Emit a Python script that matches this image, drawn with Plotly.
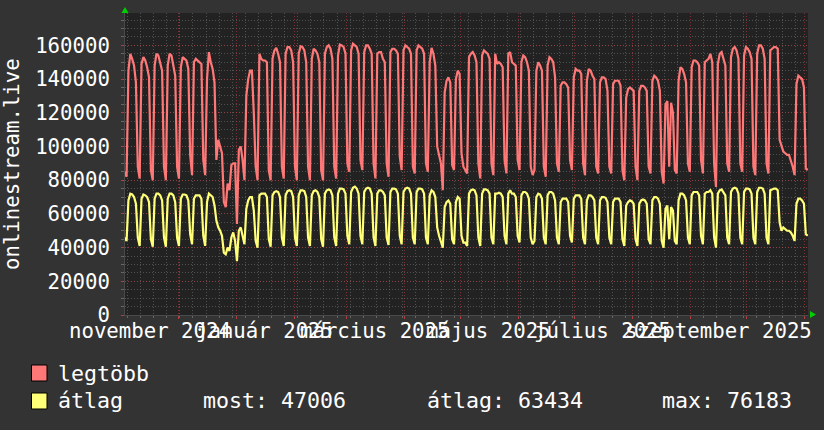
import pandas as pd
import plotly.graph_objects as go

# ---------------- data (values in thousands, one value per day) ----------------
first_day = "2024-11-02 12:00"
unit = 1000

# "legtöbb" (max) – weeks start on Monday; first row is Sat/Sun only
legtobb_k = [
    85, 82,
    145, 155, 152, 148, 138, 88, 81,
    149, 153, 151, 147, 141, 86, 80,
    148, 155, 154, 150, 145, 88, 80,
    148, 155, 154, 149, 142, 88, 81,
    147, 153, 152, 151, 146, 95, 83,
    150, 152, 151, 150, 149, 92, 83,
    140, 156, 150, 146, 138, 92, 104,
    100, 96, 67, 64, 78, 74, 89,
    90, 90, 54, 98, 100, 92, 80,
    130, 140, 145, 145, 120, 88, 80,
    155, 152, 151, 151, 150, 86, 80,
    152, 157, 158.5, 155, 150, 88, 81,
    155, 159, 159, 157, 150, 88, 80,
    155, 159.5, 159, 157, 150, 88, 80,
    152, 158, 157, 155, 150, 86, 80,
    155, 159, 160, 158, 152, 88, 81,
    154, 160.5, 160, 159, 155, 90, 85,
    157, 161, 160, 159, 155, 92, 86,
    156, 160, 160, 158, 155, 90, 81,
    155, 156, 156, 152, 150, 90, 82,
    156, 158, 158, 157, 155, 94, 86,
    157, 160, 159, 158, 155, 88, 84,
    157, 160, 159, 158, 155, 90, 85,
    150, 158.5, 155, 148, 100, 95, 90,
    74, 132, 139, 141, 138, 89, 86,
    140, 145, 143, 96, 88, 86, 84,
    153, 155, 156, 154, 150, 90, 81,
    154, 157, 156, 155, 152, 90, 83,
    155, 149, 150, 149, 147, 92, 84,
    155, 156, 150, 149, 148, 92, 86,
    150, 154, 153, 150, 145, 88, 83,
    86, 145, 150, 148, 145, 88, 82,
    148, 153, 152, 150, 141, 90, 85,
    136, 138, 138, 137, 135, 92, 86,
    141, 146, 145, 145, 143, 90, 83,
    139, 146, 145, 142, 140, 88, 84,
    138, 141, 141, 140, 133, 88, 84,
    137, 139, 139, 139, 136, 86, 80,
    129, 134, 135, 134, 133, 88, 80,
    133, 136, 136, 135, 133, 88, 84,
    139, 142, 141, 139, 133, 85, 78,
    125, 127, 88, 126, 120, 86, 84,
    139, 147, 146, 143, 138, 90, 85,
    147, 151, 151, 150, 148, 92, 84,
    150, 151, 152, 155, 150, 90, 76,
    149, 155, 156, 152, 148, 90, 85,
    153, 158, 159, 157, 152, 90, 85,
    154, 159, 158, 156, 152, 88, 83,
    155, 160, 160, 158, 152, 90, 84,
    157, 158, 159, 159, 158, 104, 100,
    97, 96, 95, 95, 92, 88, 83,
    137, 142, 141, 140, 135, 87, 86,
]

# "átlag" (average)
atlag_k = [
    46, 44,
    68, 72, 71.5, 70, 66, 46, 41,
    69, 71.5, 71, 70, 67, 45, 40.5,
    69, 72, 72, 71, 68, 46, 40.5,
    69, 72, 72, 71, 67, 46, 41,
    69, 71.5, 71.5, 71, 68, 48, 42,
    69, 71, 71, 71, 69, 47, 41,
    67, 72, 71, 70, 65, 56, 52,
    50, 47, 37, 36, 40, 38, 46,
    49, 44, 32, 50, 52, 47, 42,
    63, 68, 70, 70, 62, 44, 40,
    71, 72, 72, 72, 70, 45, 40.5,
    71, 73, 73.5, 73, 70, 46, 41,
    71, 73.5, 74, 73.5, 70, 46, 41,
    71, 74, 74, 73.5, 70, 46, 41,
    71, 73.5, 74, 73, 70, 45, 40.5,
    72, 74, 74.5, 74, 71, 46, 41,
    72, 75, 75, 74.5, 72, 47, 42,
    73, 75.5, 76.183, 75, 72, 47, 42,
    73, 75, 75.5, 75, 72, 46, 41,
    72, 74, 74, 73, 71, 46, 41.5,
    73, 75, 75, 74.5, 72, 47, 42,
    73, 75, 75.5, 75, 72, 46, 42,
    73, 75, 75, 74.5, 72, 46, 42,
    71, 74, 73, 70, 52, 47, 44,
    40, 64, 67, 68, 66, 45, 42,
    67, 70, 69, 47, 43, 43, 41,
    72, 74, 74.5, 74, 71, 46, 41,
    72, 74.5, 74.5, 74, 72, 46, 42,
    72, 72, 72.5, 72, 70, 47, 42,
    72, 74, 72, 72, 70, 47, 43,
    71, 73, 73, 72, 69, 46, 42,
    44, 70, 72, 71.5, 69, 46, 42,
    71, 73, 73, 72, 68, 46, 42,
    67, 69, 69, 69, 67, 47, 43,
    69, 71, 71, 71, 69, 46, 42,
    68, 71, 71, 70, 68, 46, 42,
    68, 70, 70, 69.5, 67, 46, 42,
    67, 69, 69, 69, 67, 45, 41,
    65, 67, 68, 67.5, 66, 45, 41,
    66, 68, 68.5, 68, 66, 45, 42,
    68, 70, 70, 69, 66, 44, 40,
    63, 65, 45, 64, 62, 44, 42,
    68, 72, 72, 71, 68, 46, 42,
    71, 73, 73, 73, 71, 47, 42,
    72, 73, 73, 74, 72, 46, 40,
    72, 74, 74.5, 73, 71, 46, 42,
    73, 75, 75.5, 75, 72, 46, 42,
    73, 75, 75, 74.5, 72, 46, 42,
    73, 75.5, 75.5, 75, 72, 46, 42,
    74, 74.5, 75, 75, 74, 55, 50,
    52, 51, 50, 50, 49, 47, 44,
    66, 69, 69, 68, 66, 48, 47.006,
]

x_range = ["2024-11-02 16:00", "2025-11-02 16:00"]
y_range = [0, 179200]
y_ticks = [0, 20000, 40000, 60000, 80000, 100000, 120000, 140000, 160000]

month_label_dates = ["2024-11-16", "2025-01-16", "2025-03-16",
                     "2025-05-16", "2025-07-16", "2025-09-16"]
month_labels = ["november 2024", "január 2025", "március 2025",
                "május 2025", "július 2025", "szeptember 2025"]

axis_title = "onlinestream.live"
legend_names = ["legtöbb", "átlag"]
stats_texts = ["most: 47006", "átlag: 63434", "max: 76183"]

# ---------------- figure ----------------
RED = "#ff7878"
YEL = "#ffff78"
FONT = "DejaVu Sans Mono"
FS = 20.7
FS_LEG = 21.6
W, H = 824, 430
L, R, T, B = 125, 16, 13, 115
PW, PH = W - L - R, H - T - B


def px(x):
    return (x - L) / PW


def py(y):
    return (H - B - y) / PH


dates = pd.date_range(first_day, periods=len(legtobb_k), freq="D")
max_vals = [v * unit for v in legtobb_k]
avg_vals = [v * unit for v in atlag_k]

fig = go.Figure()
fig.add_trace(go.Scatter(x=dates, y=max_vals, mode="lines",
                         line=dict(color=RED, width=2.2), name=legend_names[0],
                         showlegend=False))
fig.add_trace(go.Scatter(x=dates, y=avg_vals, mode="lines",
                         line=dict(color=YEL, width=2.2), name=legend_names[1],
                         showlegend=False))

grid_minor = "rgba(120,120,120,0.55)"
grid_major = "rgba(190,60,60,0.6)"
dash = "1px,2px"

fig.update_xaxes(
    type="date", range=x_range, tickmode="linear", tick0="2024-12-01", dtick="M1",
    showticklabels=False, showgrid=True, gridcolor=grid_major, griddash=dash, gridwidth=1,
    ticks="outside", ticklen=3, tickcolor="#b04040",
    showline=True, linecolor="#4a4a4a", linewidth=1, zeroline=False,
    minor=dict(tickmode="linear", tick0="2024-11-04", dtick=7 * 86400000,
               showgrid=True, gridcolor=grid_minor, griddash=dash,
               ticks="outside", ticklen=2, tickcolor="#666666"),
)
fig.update_yaxes(
    range=y_range, tickmode="array", tickvals=y_ticks,
    ticktext=[str(v) for v in y_ticks],
    showgrid=True, gridcolor=grid_major, griddash=dash, gridwidth=1,
    ticks="outside", ticklen=3, tickcolor="#b04040",
    ticklabelstandoff=7,
    tickfont=dict(family=FONT, size=FS, color="#ffffff"),
    showline=True, linecolor="#4a4a4a", linewidth=1, zeroline=False,
    minor=dict(tickmode="linear", tick0=0, dtick=5000, showgrid=True,
               gridcolor=grid_minor, griddash=dash, ticks="outside",
               ticklen=3, tickcolor="#666666"),
)

annotations = []
for d, t in zip(month_label_dates, month_labels):
    annotations.append(dict(x=d, xref="x", y=0, yref="paper", yanchor="top",
                            xanchor="center", yshift=-3, text=t, showarrow=False,
                            borderpad=0,
                            font=dict(family=FONT, size=FS, color="#ffffff")))
annotations.append(dict(x=px(12), xref="paper", y=0.5, yref="paper",
                        xanchor="center", yanchor="middle", textangle=-90,
                        text=axis_title, showarrow=False, borderpad=0,
                        font=dict(family=FONT, size=FS, color="#ffffff")))
annotations.append(dict(x=px(57), xref="paper", y=py(373), yref="paper",
                        xanchor="left", yanchor="middle", text=legend_names[0],
                        showarrow=False, borderpad=0,
                        font=dict(family=FONT, size=FS_LEG, color="#ffffff")))
row2_y = py(401)
for xpix, t in zip([57, 202, 426, 661], [legend_names[1]] + stats_texts):
    annotations.append(dict(x=px(xpix), xref="paper", y=row2_y, yref="paper",
                            xanchor="left", yanchor="middle", text=t,
                            showarrow=False, borderpad=0,
                            font=dict(family=FONT, size=FS_LEG, color="#ffffff")))

shapes = [
    dict(type="rect", xref="paper", yref="paper", x0=px(31.5), x1=px(47),
         y0=py(381), y1=py(365), fillcolor=RED, line=dict(color="#000000", width=1)),
    dict(type="rect", xref="paper", yref="paper", x0=px(31.5), x1=px(47),
         y0=py(409), y1=py(393), fillcolor=YEL, line=dict(color="#000000", width=1)),
    dict(type="path", xref="paper", yref="paper",
         path=f"M {px(121.5)},{py(13)} L {px(128.5)},{py(13)} L {px(125)},{py(7)} Z",
         fillcolor="#00d000", line=dict(color="#00d000", width=0)),
    dict(type="path", xref="paper", yref="paper",
         path=f"M {px(810)},{py(311)} L {px(810)},{py(318)} L {px(816)},{py(314.5)} Z",
         fillcolor="#00d000", line=dict(color="#00d000", width=0)),
]

fig.update_layout(
    width=W, height=H, margin=dict(l=L, r=R, t=T, b=B, autoexpand=False),
    paper_bgcolor="#333333", plot_bgcolor="#222222",
    font=dict(family=FONT, size=FS, color="#ffffff"),
    showlegend=False, annotations=annotations, shapes=shapes,
)

fig.write_html(
    "out.html",
    config={"displayModeBar": False},
    post_script="document.body.style.margin='0';document.body.style.background='#333333';",
)
